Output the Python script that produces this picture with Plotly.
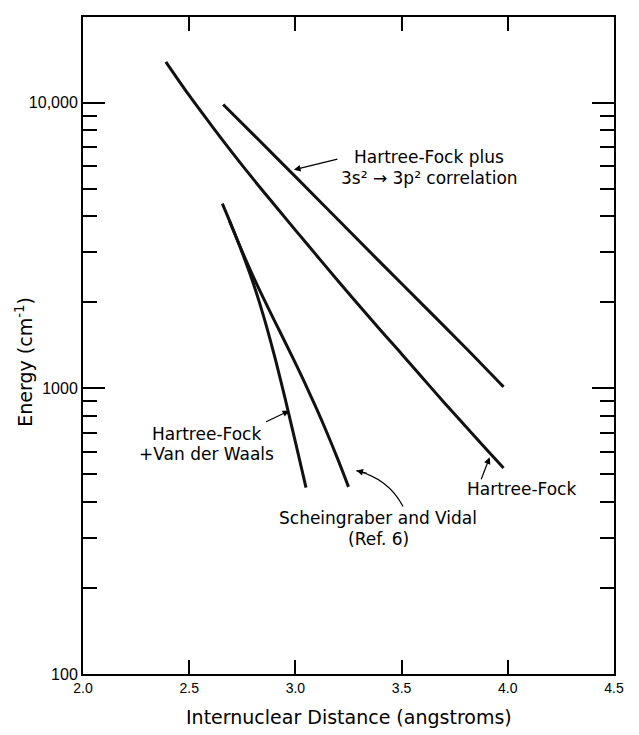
import plotly.graph_objects as go

# ---------------- data ----------------
hf_x = [2.39, 2.5, 2.6, 2.7, 2.8, 2.9, 3.0, 3.1, 3.2, 3.3, 3.4, 3.5, 3.6, 3.7, 3.8, 3.9, 3.98]
hf_y = [13900, 10600, 8420, 6730, 5420, 4400, 3580, 2920, 2380, 1950, 1600, 1320, 1085, 893, 738, 611, 526]

hfc_x = [2.66, 2.8, 3.0, 3.2, 3.4, 3.6, 3.8, 3.98]
hfc_y = [9860, 7760, 5510, 3900, 2760, 1960, 1390, 1012]

vdw_x = [2.656, 2.70, 2.75, 2.80, 2.85, 2.90, 2.95, 3.00, 3.05]
vdw_y = [4430, 3700, 2980, 2350, 1790, 1312, 931, 650, 449]

sv_x = [2.69, 2.75, 2.80, 2.85, 2.90, 2.95, 3.00, 3.05, 3.10, 3.15, 3.20, 3.25]
sv_y = [3845, 3006, 2477, 2065, 1734, 1459, 1225, 1023, 847, 695, 564, 452]

x_ticks = [2.0, 2.5, 3.0, 3.5, 4.0, 4.5]
x_ticklabels = ["2.0", "2.5", "3.0", "3.5", "4.0", "4.5"]
y_ticks = [100, 1000, 10000]
y_ticklabels = ["100", "1000", "10,000"]
y_minor = [m * d for d in (100, 1000) for m in range(2, 10)]

# ---------------- layout geometry ----------------
# the page body has a default 8px margin, so the figure is sized to fit inside it
OFF = 8
W, H = 639 - 2 * OFF, 735 - OFF
ML, MR, MT, MB = 75, 10, 7, 61
PW, PH = W - ML - MR, H - MT - MB


def px(x, y):
    """screen pixel -> paper coordinates"""
    return (x - OFF - ML) / PW, (H - MB - (y - OFF)) / PH


LINE = dict(color="#111111", width=3)
TXT = "DejaVu Sans"
TICKF = "Liberation Sans, Arial, sans-serif"

fig = go.Figure()
for xs, ys in [(hf_x, hf_y), (hfc_x, hfc_y), (vdw_x, vdw_y), (sv_x, sv_y)]:
    fig.add_trace(go.Scatter(x=xs, y=ys, mode="lines",
                             line=dict(shape="spline", smoothing=1.0, **LINE),
                             showlegend=False, hoverinfo="skip"))

fig.update_layout(
    width=W, height=H,
    margin=dict(l=ML, r=MR, t=MT, b=MB),
    paper_bgcolor="white", plot_bgcolor="white",
    showlegend=False,
)
fig.update_xaxes(
    range=[2.0, 4.5], tickvals=x_ticks, ticktext=x_ticklabels,
    ticks="inside", ticklen=14, tickwidth=1.5, tickcolor="black",
    showline=True, linecolor="black", linewidth=2, mirror="ticks",
    showgrid=False, zeroline=False,
    tickfont=dict(family=TICKF, size=14, color="black"),
)
fig.update_yaxes(
    type="log", range=[2, 4.3], tickvals=y_ticks, ticktext=y_ticklabels,
    ticks="inside", ticklen=22, tickwidth=1.5, tickcolor="black",
    minor=dict(tickvals=y_minor, ticks="inside", ticklen=14, tickwidth=1.5,
               tickcolor="black", showgrid=False),
    showline=True, linecolor="black", linewidth=2, mirror="ticks",
    showgrid=False, zeroline=False,
    tickfont=dict(family=TICKF, size=16, color="black"),
)

ann = []


def text(x, y, s, size=17):
    X, Y = px(x, y)
    ann.append(dict(x=X, y=Y, xref="paper", yref="paper", text=s, showarrow=False,
                    xanchor="center", yanchor="middle",
                    font=dict(family=TXT, size=size, color="black")))


def arrow(tipx, tipy, tailx, taily):
    X, Y = px(tipx, tipy)
    ann.append(dict(x=X, y=Y, xref="paper", yref="paper", text="", showarrow=True,
                    ax=tailx - tipx, ay=taily - tipy, arrowhead=2, arrowsize=1.1,
                    arrowwidth=1.2, arrowcolor="black", standoff=0, startstandoff=0))


# labels
text(434, 155, "Hartree-Fock plus")
text(434, 176, "3s² → 3p² correlation")
arrow(296.7, 168.3, 341.7, 157.3)

text(208, 433, "Hartree-Fock")
text(208, 453, "+Van der Waals")
arrow(292, 410, 267.3, 421.7)

text(527, 488, "Hartree-Fock")
arrow(495, 456.7, 486, 480)

text(382, 518, "Scheingraber and Vidal")
text(382, 539, "(Ref. 6)")
arrow(360, 470, 372, 473)

# curved arrow shaft for Scheingraber label
p0 = px(407.3, 506)
c = px(392.4, 478)
p2 = px(360, 470)
fig.add_shape(type="path", xref="paper", yref="paper",
              path=f"M {p0[0]},{p0[1]} Q {c[0]},{c[1]} {p2[0]},{p2[1]}",
              line=dict(color="black", width=1.2))

# axis titles
X, Y = px(353, 717)
ann.append(dict(x=X, y=Y, xref="paper", yref="paper", showarrow=False,
                text="Internuclear Distance (angstroms)", xanchor="center", yanchor="middle",
                font=dict(family=TXT, size=19, color="black")))
X, Y = px(23, 361)
ann.append(dict(x=X, y=Y, xref="paper", yref="paper", showarrow=False, textangle=-90,
                text="Energy (cm<sup>-1</sup>)", xanchor="center", yanchor="middle",
                font=dict(family=TXT, size=19, color="black")))

fig.update_layout(annotations=ann)
fig.write_html("out.html")
